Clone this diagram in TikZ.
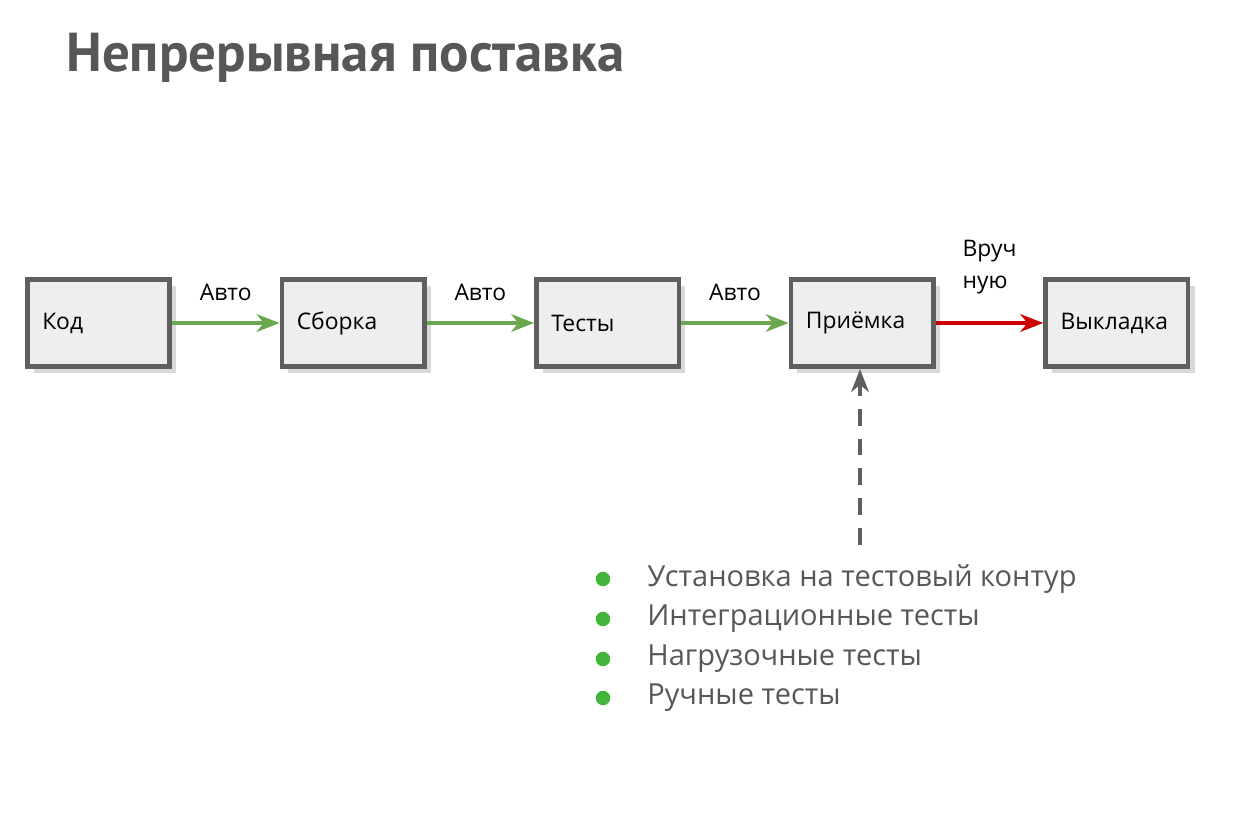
\documentclass[tikz,border=0pt]{standalone}
\usepackage{fontspec}
\setmainfont{Open Sans}
\newfontfamily\titlefont{PT Sans}
\usetikzlibrary{positioning,arrows.meta,shadows}
\definecolor{boxfill}{RGB}{238,238,238}
\definecolor{boxline}{RGB}{95,95,95}
\definecolor{autogreen}{RGB}{106,168,79}
\definecolor{handred}{RGB}{204,0,0}
\definecolor{textgray}{RGB}{87,87,87}
\definecolor{dotgreen}{RGB}{67,181,60}
\begin{document}
\begin{tikzpicture}[font=\fontsize{13}{15}\selectfont,
  stage/.style={draw=boxline,line width=2.6pt,fill=boxfill,text width=2.25cm,inner xsep=0.3cm,align=left,minimum height=1.75cm,drop shadow={shadow xshift=0.13cm,shadow yshift=-0.13cm,opacity=0.3}},
  arr/.style={-{Stealth[length=13pt,width=10pt,inset=4pt]},line width=2.4pt},
  dot/.style={circle,fill=dotgreen,inner sep=0pt,minimum size=0.29cm},
  item/.style={anchor=west,text=textgray,font=\fontsize{16.5}{20}\selectfont,inner sep=0pt}]
\useasboundingbox (0,0) rectangle (24.8,16.3);
\node[anchor=base west,inner sep=0pt,text=textgray,font=\titlefont\bfseries\fontsize{31.2}{38}\selectfont] (title) at (1.32,14.86) {Непрерывная поставка};
\node[stage] (kod) at (1.97,9.84) {Код};
\node[stage,right=2.15cm of kod] (build) {Сборка};
\node[stage,right=2.15cm of build] (tests) {Тесты};
\node[stage,right=2.15cm of tests] (accept) {Приёмка};
\node[stage,right=2.15cm of accept] (deploy) {Выкладка};
\draw[arr,autogreen](kod)--node[above=0.28cm,text=black]{Авто}(build);
\draw[arr,autogreen](build)--node[above=0.28cm,text=black]{Авто}(tests);
\draw[arr,autogreen](tests)--node[above=0.28cm,text=black]{Авто}(accept);
\draw[arr,handred](accept)--node[above=0.43cm,text=black,align=left,font=\fontsize{13}{18}\selectfont]{Вруч\\ную}(deploy);
\coordinate (src) at (17.2,5.4);
\draw[arr,boxline,dash pattern=on 9.6pt off 7.4pt](src)--(src|-accept.south);
\node[dot] (d1) at (12.06,4.72) {}; \node[item] (b1) at (12.94,4.72) {Установка на тестовый контур};
\node[dot] (d2) at (12.06,3.92) {}; \node[item] (b2) at (12.94,3.92) {Интеграционные тесты};
\node[dot] (d3) at (12.06,3.12) {}; \node[item] (b3) at (12.94,3.12) {Нагрузочные тесты};
\node[dot] (d4) at (12.06,2.34) {}; \node[item] (b4) at (12.94,2.34) {Ручные тесты};
\end{tikzpicture}
\end{document}
